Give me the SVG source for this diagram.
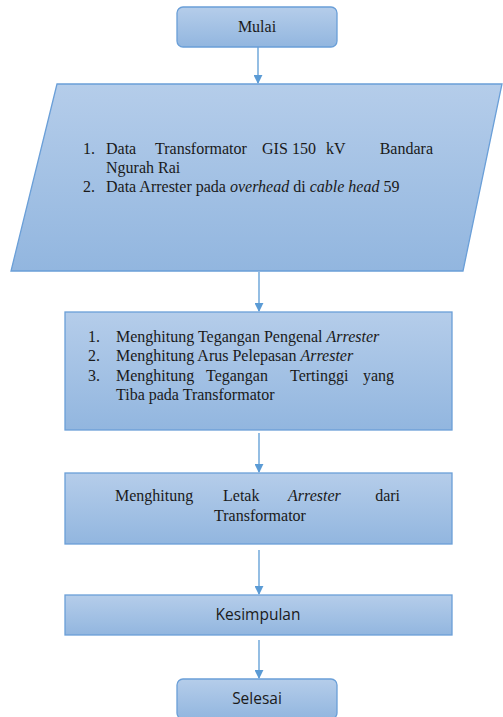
<svg xmlns="http://www.w3.org/2000/svg" width="503" height="717" viewBox="0 0 503 717">
<style>
.box{fill:url(#g);stroke:#6a9fd8;stroke-width:1.3}
.t{font-family:"Liberation Serif","Times New Roman",serif;font-size:16px;fill:#1a1a1a}
.s{font-family:"Open Sans","Liberation Sans",sans-serif;font-size:15.5px;fill:#1a1a1a}
.c{stroke:#5b9bd5;stroke-width:1.3;fill:none;marker-end:url(#a)}
</style>
<defs>
<linearGradient id="g" x1="0" y1="0" x2="0" y2="1">
<stop offset="0" stop-color="#b5cdea"/>
<stop offset="1" stop-color="#92b6df"/>
</linearGradient>
<marker id="a" viewBox="0 0 10 10" refX="9" refY="5" markerWidth="9" markerHeight="9" markerUnits="userSpaceOnUse" orient="auto">
<path d="M0,0 L10,5 L0,10 z" fill="#5b9bd5"/>
</marker>
</defs>
<g id="connectors">
<line class="c" x1="258" y1="47" x2="258" y2="83"/>
<line class="c" x1="259" y1="272" x2="259" y2="311"/>
<line class="c" x1="259" y1="433" x2="259" y2="472"/>
<line class="c" x1="259" y1="550" x2="259" y2="594"/>
<line class="c" x1="259" y1="640" x2="259" y2="678"/>
</g>
<g id="mulai">
<rect class="box" x="177" y="7" width="160" height="40" rx="6"/>
<text class="t" x="257" y="32" text-anchor="middle">Mulai</text>
</g>
<g id="data">
<polygon class="box" points="57,84 502,84 463,271 11,271"/>
<text class="t" x="83" y="154">1.</text>
<text class="t" y="154"><tspan x="106">Data</tspan><tspan x="155">Transformator</tspan><tspan x="262">GIS</tspan><tspan x="292">150</tspan><tspan x="326">kV</tspan><tspan x="433" text-anchor="end">Bandara</tspan></text>
<text class="t" x="106" y="173">Ngurah Rai</text>
<text class="t" x="83" y="192">2.</text>
<text class="t" x="106" y="192">Data Arrester pada <tspan font-style="italic">overhead</tspan> di <tspan font-style="italic">cable head</tspan> 59</text>
</g>
<g id="hitung1">
<rect class="box" x="65" y="312" width="387" height="118"/>
<text class="t" x="88" y="342">1.</text>
<text class="t" x="116" y="342">Menghitung Tegangan Pengenal <tspan font-style="italic">Arrester</tspan></text>
<text class="t" x="88" y="361">2.</text>
<text class="t" x="116" y="361">Menghitung Arus Pelepasan <tspan font-style="italic">Arrester</tspan></text>
<text class="t" x="88" y="381">3.</text>
<text class="t" y="381"><tspan x="116">Menghitung</tspan><tspan x="206">Tegangan</tspan><tspan x="290">Tertinggi</tspan><tspan x="394" text-anchor="end">yang</tspan></text>
<text class="t" x="116" y="400">Tiba pada Transformator</text>
</g>
<g id="hitung2">
<rect class="box" x="65" y="473" width="387" height="71"/>
<text class="t" y="501"><tspan x="115">Menghitung</tspan><tspan x="223">Letak</tspan><tspan x="288" font-style="italic">Arrester</tspan><tspan x="400" text-anchor="end">dari</tspan></text>
<text class="t" x="260" y="521" text-anchor="middle">Transformator</text>
</g>
<g id="kesimpulan">
<rect class="box" x="65" y="595" width="387" height="40"/>
<text class="s" x="258" y="620" text-anchor="middle">Kesimpulan</text>
</g>
<g id="selesai">
<rect class="box" x="177" y="679" width="160" height="40" rx="6"/>
<text class="s" x="257" y="704" text-anchor="middle">Selesai</text>
</g>
</svg>
